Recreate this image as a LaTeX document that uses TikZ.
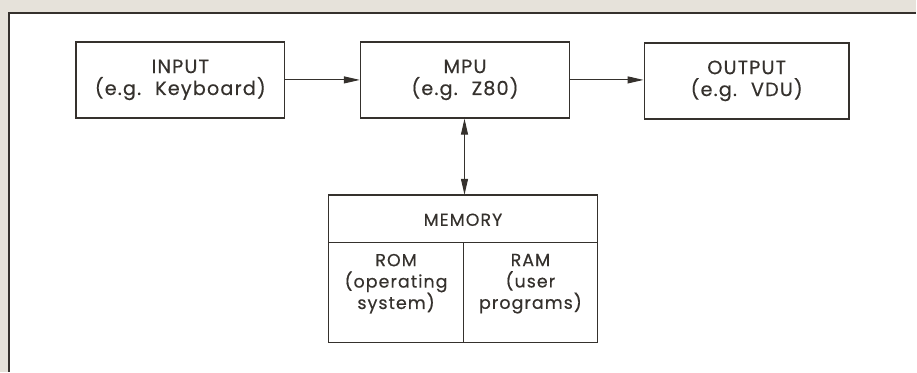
\documentclass[tikz,border=0pt]{standalone}
\usepackage{fontspec}
\setmainfont{Poppins}[LetterSpace=6,FakeBold=0.4]
\usetikzlibrary{arrows.meta}
\definecolor{ink}{HTML}{35312D}
\definecolor{paper}{HTML}{E6E2DA}
\newcommand{\gap}{\hspace{14bp}}
\begin{document}
\begin{tikzpicture}[x=1bp,y=-1bp,
  box/.style={draw=ink,line width=1.6bp,minimum height=76bp,align=center,inner sep=0pt,text=ink,font=\fontsize{19.3}{22}\selectfont},
  conn/.style={draw=ink,line width=1bp,-{Triangle[length=16bp,width=7bp]}},
  lbl/.style={text=ink,align=center,font=\fontsize{17.5}{21.5}\selectfont}]
\fill[paper] (0,0) rectangle (917,372);
\fill[white] (9,13) rectangle (917,372);
\draw[ink,line width=2bp] (9,372) -- (9,13) -- (917,13);
\node[box,minimum width=209bp] (in) at (180.5,80) {INPUT\\(e.g.\gap Keyboard)};
\node[box,minimum width=209bp] (mpu) at (465.5,80) {MPU\\(e.g.\gap Z80)};
\node[box,minimum width=205bp] (out) at (747.5,81) {OUTPUT\\(e.g.\gap VDU)};
\draw[ink,line width=1.6bp] (329,195) rectangle (598,343);
\coordinate (memtop) at (465,195);
\draw[ink,line width=1.2bp] (329,243) -- (598,243);
\draw[ink,line width=1.2bp] (464,243) -- (464,343);
\node[lbl] (mem) at (463.5,220) {MEMORY};
\node[lbl] (rom) at (396.5,284) {ROM\\(operating\\system)};
\node[lbl] (ram) at (531,284) {RAM\\(user\\programs)};
\draw[conn] (in.east) -- (mpu.west);
\draw[conn] (mpu.east) -- (out.west |- mpu.east);
\draw[draw=ink,line width=1bp,{Triangle[length=16bp,width=7bp]}-{Triangle[length=16bp,width=7bp]}] (mpu.south -| memtop) -- (memtop);
\end{tikzpicture}
\end{document}
